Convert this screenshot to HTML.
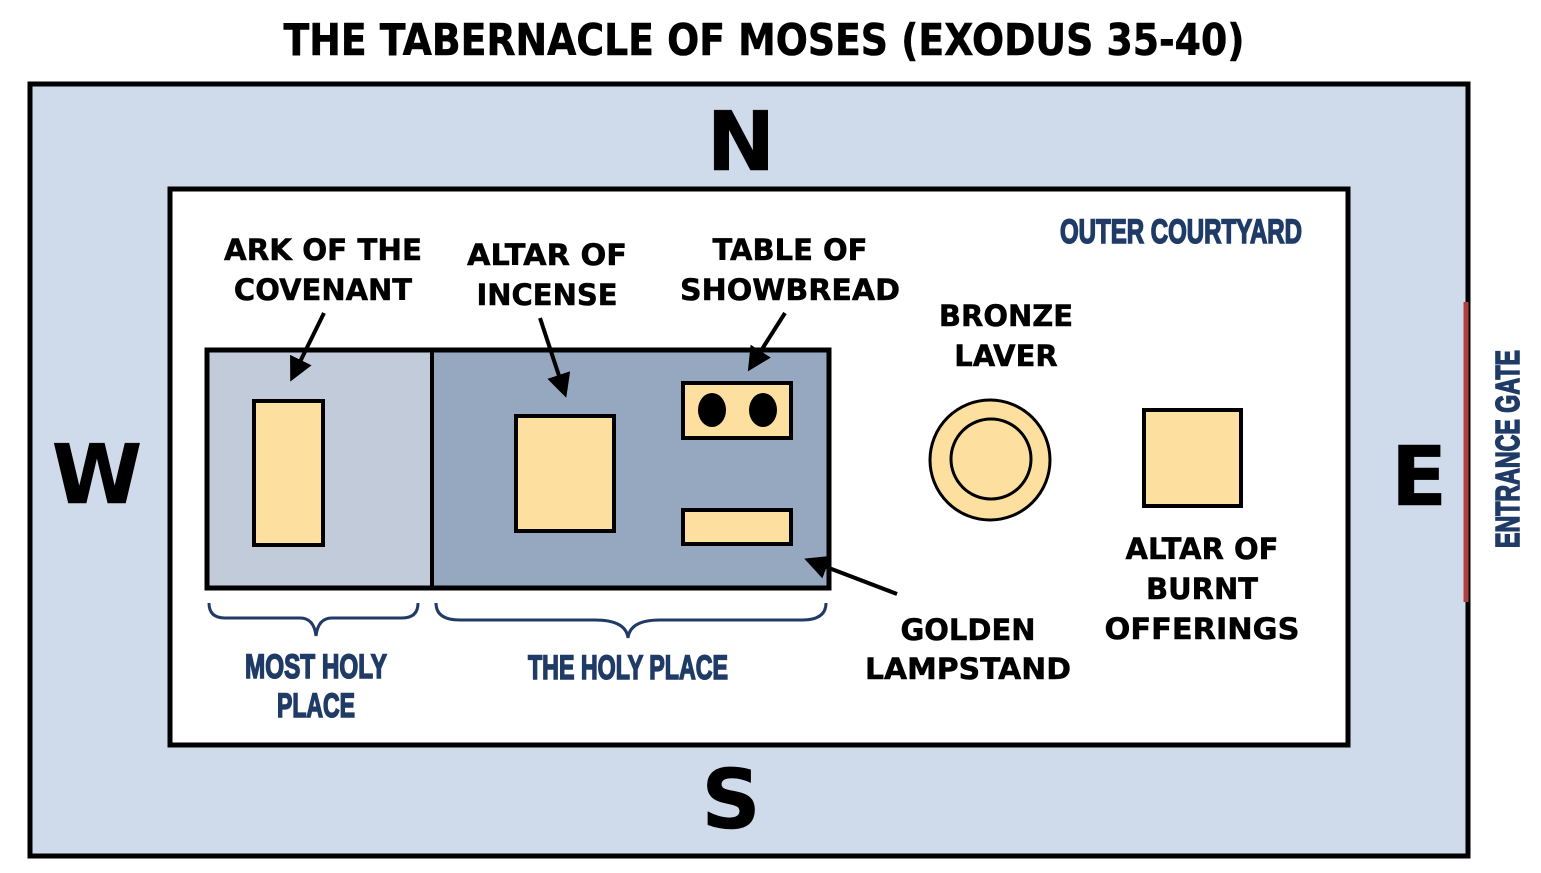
<!DOCTYPE html>
<html><head><style>html,body{margin:0;padding:0;background:#fff}svg{display:block}</style></head><body>
<svg width="1541" height="873" viewBox="0 0 1541 873" xmlns="http://www.w3.org/2000/svg">
<defs><marker id="ah" markerWidth="6" markerHeight="6" refX="5" refY="3" orient="auto" markerUnits="strokeWidth"><path d="M0,0 L6,3 L0,6 z" fill="#000"/></marker></defs>
<g font-family="'DejaVu Sans','Liberation Sans',sans-serif" font-weight="bold" fill="#000">
<text x="764" y="55" font-size="44" text-anchor="middle" textLength="961" lengthAdjust="spacingAndGlyphs" stroke="#000" stroke-width="0.6">THE TABERNACLE OF MOSES (EXODUS 35-40)</text>
</g>
<rect x="30" y="84" width="1438" height="772" fill="#cfdbea" stroke="#000" stroke-width="5"/>
<line x1="1466" y1="302" x2="1466" y2="602" stroke="#b04040" stroke-width="5"/>
<rect x="170" y="189" width="1178" height="556" fill="#fff" stroke="#000" stroke-width="5"/>
<rect x="207" y="350" width="225" height="238" fill="#c2cbd9"/>
<rect x="432" y="350" width="397" height="238" fill="#96a8bf"/>
<rect x="207" y="350" width="622" height="238" fill="none" stroke="#000" stroke-width="5"/>
<line x1="432" y1="350" x2="432" y2="588" stroke="#000" stroke-width="4"/>
<g fill="#fde0a0" stroke="#000" stroke-width="4">
<rect x="254" y="401" width="69" height="144"/>
<rect x="516" y="416" width="98" height="115"/>
<rect x="683" y="383" width="108" height="55"/>
<rect x="683" y="510" width="108" height="34"/>
<rect x="1144" y="410" width="97" height="96"/>
<circle cx="990" cy="460" r="60" stroke-width="3"/>
<circle cx="991" cy="459" r="40" stroke-width="3"/>
</g>
<ellipse cx="712" cy="410" rx="14" ry="17" fill="#000"/>
<ellipse cx="763" cy="410" rx="14" ry="17" fill="#000"/>
<g stroke="#000" stroke-width="4" fill="none" marker-end="url(#ah)">
<line x1="324" y1="313" x2="292" y2="378"/>
<line x1="540" y1="318" x2="565" y2="394"/>
<line x1="785" y1="313" x2="750" y2="368"/>
<line x1="897" y1="594" x2="808" y2="560"/>
</g>
<g stroke="#1f3b66" stroke-width="3" fill="none">
<path d="M209,603 Q209,618 225,618 L300,618 Q314,618 316,636 Q318,618 332,618 L402,618 Q418,618 418,603"/>
<path d="M436,603 Q436,620 460,620 L595,620 Q626,620 628,638 Q630,620 660,620 L802,620 Q826,620 826,603"/>
</g>
<g font-family="'DejaVu Sans','Liberation Sans',sans-serif" font-weight="bold" fill="#000" stroke="#000" stroke-width="0.5" text-anchor="middle" font-size="29">
<text x="323" y="260" textLength="198" lengthAdjust="spacingAndGlyphs">ARK OF THE</text>
<text x="323" y="300">COVENANT</text>
<text x="547" y="265" textLength="160" lengthAdjust="spacingAndGlyphs">ALTAR OF</text>
<text x="547" y="305">INCENSE</text>
<text x="790" y="260">TABLE OF</text>
<text x="790" y="300" textLength="220" lengthAdjust="spacingAndGlyphs">SHOWBREAD</text>
<text x="1006" y="326">BRONZE</text>
<text x="1006" y="366">LAVER</text>
<text x="968" y="640">GOLDEN</text>
<text x="968" y="679" textLength="206" lengthAdjust="spacingAndGlyphs">LAMPSTAND</text>
<text x="1202" y="559">ALTAR OF</text>
<text x="1202" y="599">BURNT</text>
<text x="1202" y="639" textLength="195" lengthAdjust="spacingAndGlyphs">OFFERINGS</text>
<text x="741" y="170" font-size="82">N</text>
<text x="97" y="503" font-size="82">W</text>
<text x="1419" y="505" font-size="82">E</text>
<text x="731" y="828" font-size="82">S</text>
</g>
<g font-family="'Liberation Sans Narrow','Liberation Sans',sans-serif" font-weight="bold" fill="#1f3b66" stroke="#1f3b66" stroke-width="1.6" text-anchor="middle" font-size="34">
<text x="1181" y="243" textLength="242" lengthAdjust="spacingAndGlyphs">OUTER COURTYARD</text>
<text x="316" y="678" textLength="142" lengthAdjust="spacingAndGlyphs">MOST HOLY</text>
<text x="316" y="717" textLength="78" lengthAdjust="spacingAndGlyphs">PLACE</text>
<text x="628" y="679" textLength="200" lengthAdjust="spacingAndGlyphs">THE HOLY PLACE</text>
<text transform="translate(1519,449) rotate(-90)" x="0" y="0" font-size="33" textLength="198" lengthAdjust="spacingAndGlyphs">ENTRANCE GATE</text>
</g>
</svg>
</body></html>
